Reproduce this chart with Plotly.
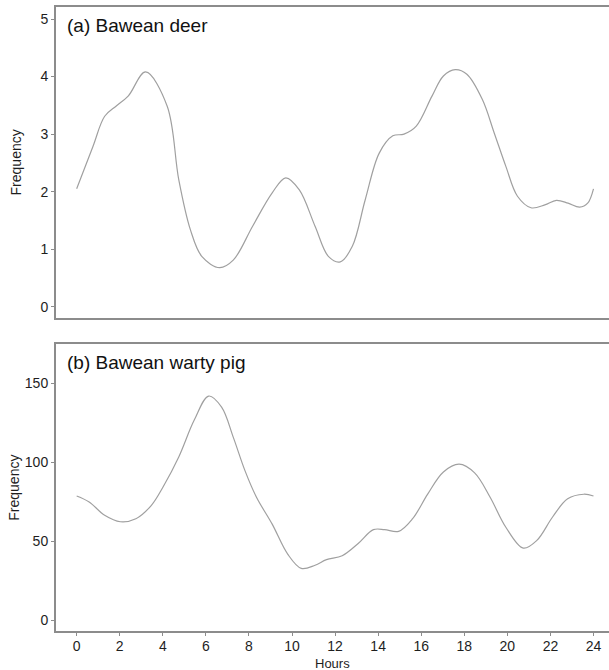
import plotly.graph_objects as go

# Panel (a) Bawean deer
deer_hours = [0, 0.76, 1.3, 1.84, 2.39, 3.2, 4.2, 4.74, 5.28, 5.82, 6.64, 7.27, 8.17, 9.08, 9.71,
              10.34, 11.07, 11.7, 12.24, 12.8, 13.4, 14.05, 14.68, 15.2, 15.77, 16.5, 17.03, 17.58,
              18.12, 18.84, 19.39, 19.93, 20.47, 21.1, 21.74, 22.28, 22.82, 23.36, 23.73, 24]
deer_freq = [2.05, 2.79, 3.31, 3.49, 3.66, 4.08, 3.49, 2.21, 1.34, 0.87, 0.68, 0.81, 1.40, 1.98, 2.24,
             2.03, 1.40, 0.87, 0.78, 1.05, 1.86, 2.67, 2.97, 3.0, 3.14, 3.66, 4.01, 4.12,
             4.04, 3.6, 3.02, 2.44, 1.92, 1.72, 1.77, 1.85, 1.8, 1.73, 1.8, 2.05]

# Panel (b) Bawean warty pig
pig_hours = [0, 0.58, 1.3, 2.03, 2.75, 3.47, 4.01, 4.74, 5.46, 6.13, 6.73, 7.27, 7.81, 8.35, 9.08,
             9.8, 10.43, 11.07, 11.6, 12.33, 13.06, 13.78, 14.3, 14.95, 15.6, 16.3, 17.03, 17.76,
             18.48, 19.2, 19.93, 20.74, 21.37, 22.1, 22.8, 23.55, 24]
pig_freq = [78.8, 75, 66.6, 62.5, 64.4, 72.9, 84.5, 103.5, 126.8, 142, 135, 116, 95, 78, 61,
            42, 33, 35, 38.5, 41, 48.6, 57.5, 57.5, 56.4, 64.4, 80, 94, 98.9,
            93.4, 78, 59, 45.8, 50.7, 65.5, 77, 79.9, 78.8]

x_ticks = list(range(0, 25, 2))
deer_ticks = [0, 1, 2, 3, 4, 5]
pig_ticks = [0, 50, 100, 150]
labels = ["(a) Bawean deer", "(b) Bawean warty pig"]
x_title = "Hours"

FONT = "Liberation Sans, Arial, sans-serif"
LINE_COL = "#a0a0a0"
AXIS_COL = "#8c8c8c"
TXT = "#1e1e1e"

fig = go.Figure()
fig.add_trace(go.Scatter(x=deer_hours, y=deer_freq, mode="lines", xaxis="x", yaxis="y",
                         line=dict(color=LINE_COL, width=1.2, shape="spline", smoothing=1.0),
                         showlegend=False, hoverinfo="skip"))
fig.add_trace(go.Scatter(x=pig_hours, y=pig_freq, mode="lines", xaxis="x2", yaxis="y2",
                         line=dict(color=LINE_COL, width=1.2, shape="spline", smoothing=1.0),
                         showlegend=False, hoverinfo="skip"))

xr = [-0.96, 24.72]
common_axis = dict(showline=True, linecolor=AXIS_COL, linewidth=2, showgrid=False, zeroline=False,
                   tickfont=dict(family=FONT, size=14, color=TXT))
title_font = dict(family=FONT, size=14, color=TXT)

fig.update_layout(
    width=609, height=670,
    margin=dict(l=56, r=0, t=7, b=39),
    paper_bgcolor="white", plot_bgcolor="white",
    font=dict(family=FONT, color=TXT),
    xaxis=dict(**common_axis, domain=[0, 1], range=xr, anchor="y", mirror=True,
               showticklabels=False, ticks="", tickvals=x_ticks),
    yaxis=dict(**common_axis, domain=[0.502, 1], range=[-0.191, 5.209], anchor="x",
               ticks="outside", ticklen=3, tickcolor=AXIS_COL, tickvals=deer_ticks,
               title=dict(text="Frequency", font=title_font, standoff=16)),
    xaxis2=dict(**common_axis, domain=[0, 1], range=xr, anchor="y2", mirror=True,
                ticks="outside", ticklen=3, tickcolor=AXIS_COL, tickvals=x_ticks,
                ticklabelstandoff=-2),
    yaxis2=dict(**common_axis, domain=[0, 0.4594], range=[-6.6, 174.7], anchor="x2",
                ticks="outside", ticklen=3, tickcolor=AXIS_COL, tickvals=pig_ticks,
                title=dict(text="Frequency", font=title_font, standoff=2)),
    annotations=[
        dict(text=labels[0], xref="x domain", yref="y domain", x=0.0163, y=0.94,
             xanchor="left", yanchor="middle", showarrow=False,
             font=dict(family=FONT, size=19, color="#111")),
        dict(text=labels[1], xref="x2 domain", yref="y2 domain", x=0.0163, y=0.936,
             xanchor="left", yanchor="middle", showarrow=False,
             font=dict(family=FONT, size=19, color="#111")),
        dict(text=x_title, xref="x2 domain", yref="paper", x=0.5, y=-0.0515,
             xanchor="center", yanchor="middle", showarrow=False,
             font=dict(family=FONT, size=13, color=TXT)),
    ],
)

fig.write_html("out.html", config={"displayModeBar": False},
               post_script="document.body.style.margin='0';")
